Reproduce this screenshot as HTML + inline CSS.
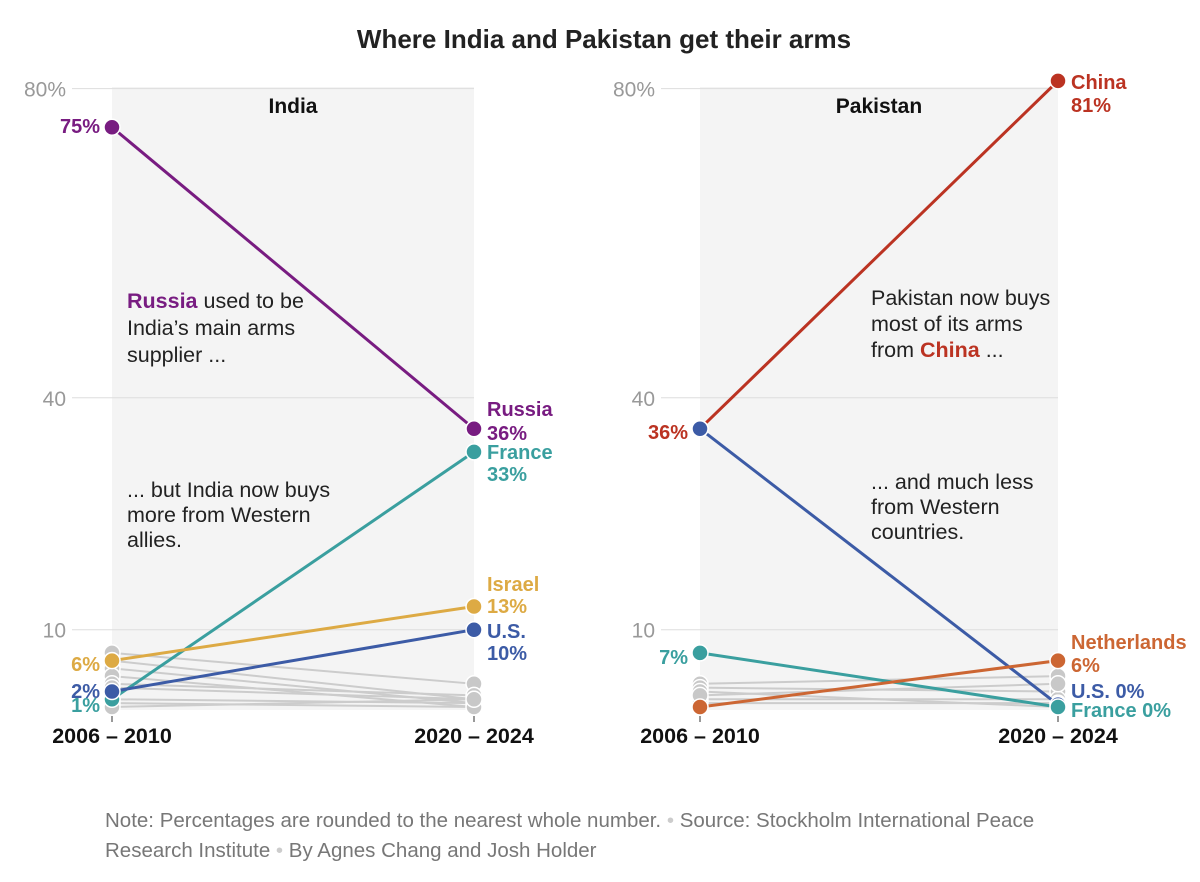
<!DOCTYPE html>
<html><head><meta charset="utf-8"><style>
body{margin:0;background:#fff;font-family:"Liberation Sans",sans-serif}
svg text{font-family:"Liberation Sans",sans-serif}
</style></head><body>
<svg width="1200" height="877" id="svg">
<text x="604" y="48" text-anchor="middle" font-size="26" font-weight="bold" fill="#222">Where India and Pakistan get their arms</text>
<g id="panels"></g>
<text font-size="20.5" fill="#777"><tspan x="105" y="827">Note: Percentages are rounded to the nearest whole number. <tspan fill="#ccc">•</tspan> Source: Stockholm International Peace</tspan><tspan x="105" y="857">Research Institute <tspan fill="#ccc">•</tspan> By Agnes Chang and Josh Holder</tspan></text>
</svg>
<script>
const ticks=[80,40,10];
const periods=["2006 – 2010","2020 – 2024"];
const indiaSeries=[["Russia",75,36,"#781c81"],["France",1,33,"#3a9f9f"],["Israel",6,13,"#ddaa44"],["U.S.",2,10,"#3c5ba6"]];
const indiaGray=[[7,3],[6,1],[5,0.5],[4,0],[3,1.5],[2.5,1],[1,0.5],[0.5,0],[0,1]];
const pakSeries=[["China",36,81,"#bb3322"],["U.S.",36,0.3,"#3c5ba6"],["France",7,0,"#3a9f9f"],["Netherlands",0,6,"#cc6633"]];
const pakGray=[[3,4],[2.5,2],[1,1],[0.5,0.5],[2,0],[1.5,3]];
const NS="http://www.w3.org/2000/svg";
const g=document.getElementById('panels');
function el(t,a,p){const e=document.createElementNS(NS,t);for(const k in a)e.setAttribute(k,a[k]);(p||g).appendChild(e);return e;}
function y(v){return 707-v*7.73;}
function panel(x0,x1,tickX,title,series,gray,labels,annos){
 const bg=el('rect',{x:x0,y:87,width:x1-x0,height:623,fill:'#f4f4f4'});
 
 ticks.forEach((t,i)=>{const l=el('line',{x1:tickX+6,x2:x1,y1:y(t),y2:y(t),stroke:'#ddd'});
  
  const tx=el('text',{x:tickX,y:y(t)+8,'text-anchor':'end','font-size':21,fill:'#999'});
  tx.textContent=t+(i==0?'%':'');});
 const tt=el('text',{x:(x0+x1)/2,y:113,'text-anchor':'middle','font-size':21,'font-weight':'bold',fill:'#111'});
 tt.textContent=title;
 [x0,x1].forEach((x,i)=>{el('line',{x1:x,x2:x,y1:716,y2:722,stroke:'#333'});
  const t=el('text',{x:x,y:743,'text-anchor':'middle','font-size':21.5,'font-weight':'bold',fill:'#111'});
  t.textContent=periods[i];});
 gray.forEach(d=>{const l=el('line',{x1:x0,y1:y(d[0]),x2:x1,y2:y(d[1]),stroke:'#ccc','stroke-width':2});
  
  [[x0,d[0]],[x1,d[1]]].forEach(p=>{const c=el('circle',{cx:p[0],cy:y(p[1]),r:8,fill:'#c8c8c8',stroke:'#fff','stroke-width':1.5});
   });});
 series.forEach(s=>{const l=el('line',{x1:x0,y1:y(s[1]),x2:x1,y2:y(s[2]),stroke:s[3],'stroke-width':3});
  });
 series.forEach(s=>{[[x0,s[1]],[x1,s[2]]].forEach(p=>{const c=el('circle',{cx:p[0],cy:y(p[1]),r:8,fill:s[3],stroke:'#fff','stroke-width':1.5});
  });});
 labels.forEach(L=>{const t=el('text',{x:L[0],y:L[1],'text-anchor':L[3],'font-size':20,'font-weight':'bold',fill:L[4]});
  t.textContent=L[2];});
 annos.forEach(A=>{const t=el('text',{x:A[0],y:A[1],'font-size':21.5,fill:'#222'});
  t.innerHTML=A[2];});
}
panel(112,474,66,"India",indiaSeries,indiaGray,[
 [100,133,"75%","end","#781c81"],[487,416,"Russia","start","#781c81"],[487,440,"36%","start","#781c81"],
 [487,459,"France","start","#3a9f9f"],[487,481,"33%","start","#3a9f9f"],
 [487,591,"Israel","start","#ddaa44"],[487,613,"13%","start","#ddaa44"],
 [487,638,"U.S.","start","#3c5ba6"],[487,660,"10%","start","#3c5ba6"],
 [100,671,"6%","end","#ddaa44"],[100,698,"2%","end","#3c5ba6"],[100,712,"1%","end","#3a9f9f"]],
 [[127,308,'<tspan font-weight="bold" fill="#781c81">Russia</tspan> used to be'],[127,335,"India’s main arms"],[127,362,"supplier ..."],
  [127,497,"... but India now buys"],[127,522,"more from Western"],[127,547,"allies."]]);
panel(700,1058,655,"Pakistan",pakSeries,pakGray,[
 [688,439,"36%","end","#bb3322"],[1071,89,"China","start","#bb3322"],[1071,112,"81%","start","#bb3322"],
 [688,664,"7%","end","#3a9f9f"],[1071,649,"Netherlands","start","#cc6633"],[1071,672,"6%","start","#cc6633"],
 [1071,698,"U.S. 0%","start","#3c5ba6"],[1071,717,"France 0%","start","#3a9f9f"]],
 [[871,305,"Pakistan now buys"],[871,331,"most of its arms"],[871,357,'from <tspan font-weight="bold" fill="#bb3322">China</tspan> ...'],
  [871,489,"... and much less"],[871,514,"from Western"],[871,539,"countries."]]);
</script>
</body></html>
